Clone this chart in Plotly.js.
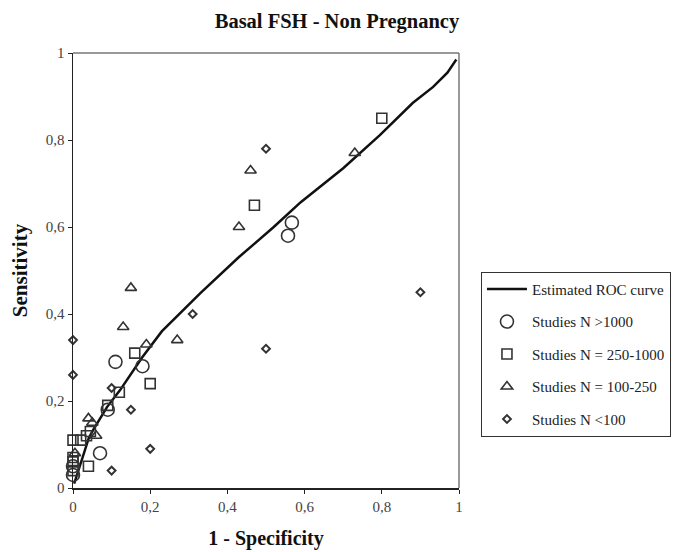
<!DOCTYPE html>
<html>
<head>
<meta charset="utf-8">
<script src="https://cdn.plot.ly/plotly-3.0.1.min.js"></script>
<style>html,body{margin:0;padding:0;background:#fff;}#chart{width:678px;height:552px;}</style>
</head>
<body>
<div id="chart"></div>
<script>
// Estimated ROC curve
const rocX = [0.003, 0.01, 0.023, 0.041, 0.052, 0.088, 0.122, 0.179, 0.23, 0.33, 0.43, 0.52, 0.59, 0.70, 0.795, 0.88, 0.933, 0.97, 0.993];
const rocY = [0.01, 0.03, 0.069, 0.115, 0.133, 0.186, 0.225, 0.30, 0.36, 0.448, 0.531, 0.60, 0.657, 0.735, 0.811, 0.885, 0.922, 0.955, 0.985];

// Studies N > 1000
const bigX = [0.11, 0.07, 0.09, 0.18, 0.557, 0.567, 0, 0];
const bigY = [0.29, 0.08, 0.18, 0.28, 0.58, 0.61, 0.03, 0.05];

// Studies N = 250-1000
const midX = [0.47, 0.80, 0.16, 0.20, 0.12, 0.09, 0, 0.02, 0.035, 0.045, 0.04, 0, 0, 0];
const midY = [0.65, 0.85, 0.31, 0.24, 0.22, 0.19, 0.11, 0.11, 0.12, 0.13, 0.05, 0.07, 0.06, 0.04];

// Studies N = 100-250
const smallX = [0.15, 0.43, 0.46, 0.73, 0.13, 0.19, 0.27, 0.04, 0.05, 0.06, 0.005];
const smallY = [0.46, 0.60, 0.73, 0.77, 0.37, 0.33, 0.34, 0.16, 0.15, 0.12, 0.08];

// Studies N < 100
const tinyX = [0.50, 0.90, 0.50, 0.31, 0.15, 0.10, 0.20, 0.10, 0, 0];
const tinyY = [0.78, 0.45, 0.32, 0.40, 0.18, 0.23, 0.09, 0.04, 0.34, 0.26];

const mk = '#333333';
const serif = 'Liberation Serif, Times New Roman, serif';

const traces = [
  {x: rocX, y: rocY, type: 'scatter', mode: 'lines', name: 'Estimated ROC curve',
   line: {color: '#111', width: 2.5}, legendgroup: 'a'},
  {x: bigX, y: bigY, type: 'scatter', mode: 'markers', name: 'Studies N >1000',
   marker: {symbol: 'circle-open', size: 13, color: mk, line: {width: 1.6, color: mk}}, legendgroup: 'b', cliponaxis: false},
  {x: midX, y: midY, type: 'scatter', mode: 'markers', name: 'Studies N = 250-1000',
   marker: {symbol: 'square-open', size: 10, color: mk, line: {width: 1.6, color: mk}}, legendgroup: 'c', cliponaxis: false},
  {x: smallX, y: smallY, type: 'scatter', mode: 'markers', name: 'Studies N = 100-250',
   marker: {symbol: 'triangle-up-open', size: 10, color: mk, line: {width: 1.6, color: mk}}, legendgroup: 'd', cliponaxis: false},
  {x: tinyX, y: tinyY, type: 'scatter', mode: 'markers', name: 'Studies N <100',
   marker: {symbol: 'diamond-open', size: 6, color: mk, line: {width: 2, color: mk}}, legendgroup: 'e', cliponaxis: false}
];

const layout = {
  width: 678, height: 552,
  margin: {l: 73, r: 219, t: 53, b: 64, autoexpand: false},
  paper_bgcolor: '#fff', plot_bgcolor: '#fff',
  separators: ',.',
  font: {family: serif, size: 15, color: '#222'},
  title: {text: '<b>Basal FSH - Non Pregnancy</b>', font: {family: serif, size: 20.5, color: '#111'},
          xref: 'container', x: 0.497, yref: 'container', y: 0.963, yanchor: 'middle'},
  xaxis: {range: [0, 1], tickvals: [0, 0.2, 0.4, 0.6, 0.8, 1], showgrid: false, zeroline: false,
          showline: true, linecolor: '#222', linewidth: 1.5, ticks: 'outside', ticklen: 4, tickcolor: '#222',
          tickfont: {family: serif, size: 15, color: '#444'},
          title: {text: '<b>1 - Specificity</b>', font: {family: serif, size: 20, color: '#111'}, standoff: 17}},
  yaxis: {range: [0, 1], tickvals: [0, 0.2, 0.4, 0.6, 0.8, 1], showgrid: false, zeroline: false,
          showline: true, linecolor: '#222', linewidth: 1.5, ticks: 'outside', ticklen: 4, tickcolor: '#222',
          tickfont: {family: serif, size: 15, color: '#444'},
          title: {text: '<b>Sensitivity</b>', font: {family: serif, size: 21, color: '#111'}, standoff: 12}},
  shapes: [
    {type: 'line', xref: 'paper', yref: 'paper', x0: 0, x1: 1, y0: 1, y1: 1, line: {color: '#777', width: 1.5}},
    {type: 'line', xref: 'paper', yref: 'paper', x0: 1, x1: 1, y0: 0, y1: 1, line: {color: '#777', width: 1.5}}
  ],
  showlegend: true,
  legend: {xref: 'container', x: 0.7094, xanchor: 'left', y: 0.497, yanchor: 'top', bordercolor: '#333', borderwidth: 1,
           bgcolor: '#fff', font: {family: serif, size: 15, color: '#222'}, tracegroupgap: 10,
           itemwidth: 40}
};

Plotly.newPlot('chart', traces, layout, {displayModeBar: false, staticPlot: true});
</script>
</body>
</html>
